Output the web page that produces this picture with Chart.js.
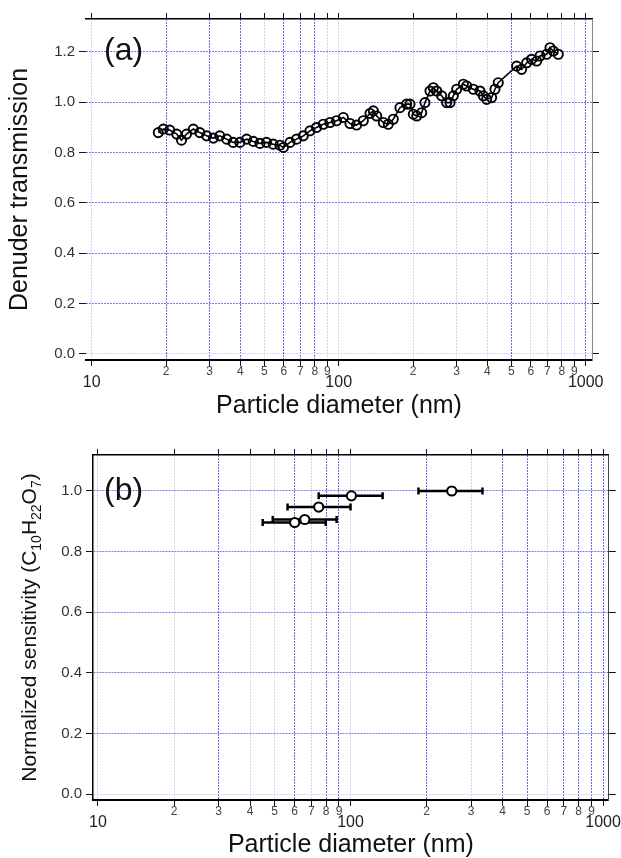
<!DOCTYPE html>
<html><head><meta charset="utf-8">
<script src="https://cdn.jsdelivr.net/npm/chart.js@4.4.1/dist/chart.umd.min.js"></script>
<style>
html,body{margin:0;padding:0;background:#fff;overflow:hidden;width:621px;height:858px;}
canvas{position:absolute;left:0;}
#ca{top:0;}
#cb{top:430px;}
</style></head><body>
<canvas id="ca" width="621" height="430"></canvas>
<canvas id="cb" width="621" height="440"></canvas>
<script>
// ---------- data ----------
const diameterA = [18.6, 19.5, 20.7, 22.1, 23.1, 24.2, 25.8, 27.4, 29.2, 31.1, 33.0, 35.2, 37.4, 39.8, 42.4, 45.1, 48.0, 51.0, 54.3, 57.8, 59.7, 63.5, 67.5, 71.9, 76.5, 81.3, 86.6, 92.2, 98.0, 104.4, 111.1, 118.1, 125.8, 133.9, 138.1, 142.5, 151.6, 158.8, 166.3, 177, 188.4, 194.4, 200.5, 207, 216.8, 223.5, 234.2, 241.6, 249.4, 261.2, 273.6, 282.3, 291.1, 300.4, 319.6, 329.7, 350.7, 373.2, 384.9, 397.2, 416, 429.3, 442.6, 525.6, 550.4, 576.8, 604, 633.4, 653, 695, 717, 739, 774.5];
const transmissionA = [0.879, 0.893, 0.889, 0.873, 0.849, 0.873, 0.893, 0.879, 0.866, 0.857, 0.866, 0.853, 0.840, 0.840, 0.853, 0.844, 0.836, 0.840, 0.833, 0.829, 0.820, 0.840, 0.853, 0.866, 0.886, 0.899, 0.912, 0.919, 0.926, 0.939, 0.915, 0.909, 0.926, 0.955, 0.965, 0.945, 0.919, 0.912, 0.932, 0.978, 0.992, 0.992, 0.952, 0.945, 0.958, 0.998, 1.044, 1.057, 1.044, 1.025, 0.998, 0.998, 1.025, 1.051, 1.071, 1.064, 1.051, 1.044, 1.025, 1.011, 1.018, 1.051, 1.077, 1.143, 1.130, 1.156, 1.170, 1.163, 1.183, 1.190, 1.216, 1.203, 1.190];

const diameterB     = [60.1, 65.9, 74.8, 100.8, 251.7];
const diameterLowB  = [44.9, 49.2, 56.3, 74.8, 185.8];
const diameterHighB = [79.8, 88.1, 100.0, 134.0, 333.0];
const sensitivityB  = [0.896, 0.906, 0.947, 0.984, 1.0];

const xTickValues = [10,20,30,40,50,60,70,80,90,100,200,300,400,500,600,700,800,900,1000];
const xTickLabels = ['10','2','3','4','5','6','7','8','9','100','2','3','4','5','6','7','8','9','1000'];
const majorX = [10,100,1000];
const yTickValuesA = [0,0.2,0.4,0.6,0.8,1.0,1.2];
const yTickValuesB = [0,0.2,0.4,0.6,0.8,1.0];

// gridline emphasis (style)
const darkGridA = [20,30,40,60,70,80,500,1000];
const darkGridB = [30,60,80,90,200,400,500,700,800,900,1000];

// ---------- helpers ----------
const FONT = "'Liberation Sans', Arial, Helvetica, sans-serif";
Chart.defaults.font.family = FONT;
const BLUE_DARK = 'rgb(105,105,240)';
const BLUE_LIGHT = 'rgb(212,212,248)';
const BLUE_H = 'rgb(120,120,245)';

function xTicksBuilder(s){ s.ticks = xTickValues.map(v => ({value: v, major: majorX.includes(v)})); }

function xBottom(min, max, darkList, h, titlePad){
  return {
    type:'logarithmic', position:'bottom', min:min, max:max,
    afterBuildTicks: xTicksBuilder,
    afterFit: s => { s.height = h; },
    ticks:{
      autoSkip:false, maxRotation:0, minRotation:0, padding:0,
      callback:(v,i) => xTickLabels[i],
      font: c => (c.tick && majorX.includes(c.tick.value)) ? {family:FONT,size:16,lineHeight:2.125} : {family:FONT,size:12,lineHeight:1.0},
      color: c => (c.tick && majorX.includes(c.tick.value)) ? '#222' : '#444'
    },
    grid:{
      color: c => (c.tick && darkList.includes(c.tick.value)) ? BLUE_DARK : BLUE_LIGHT,
      lineWidth:1, tickLength:6, tickColor:'#111', tickWidth:1
    },
    border:{display:true, color:'#000', width:2, dash:[2,1]},
    title:{display:true, text:'Particle diameter (nm)', color:'#111', font:{family:FONT,size:25}, padding:{top:0,bottom:titlePad}}
  };
}
function xTop(min, max, bw){
  return {
    type:'logarithmic', position:'top', min:min, max:max,
    afterBuildTicks: xTicksBuilder,
    afterFit: s => { s.height = 0; },
    ticks:{display:false, autoSkip:false},
    grid:{drawOnChartArea:false, tickLength:6, tickColor:'#111', tickWidth:1},
    border:{display:true, color:'#000', width:bw}
  };
}
function yLeft(min, max, vals, w, showBorder, title){
  return {
    type:'linear', position:'left', min:min, max:max,
    afterBuildTicks: s => { s.ticks = vals.map(v => ({value:v})); },
    afterFit: s => { s.width = w; },
    ticks:{padding:4, callback: v => Number(v).toFixed(1), font:{family:FONT,size:15}, color:'#333'},
    grid:{
      color: c => (c.tick && Math.abs(c.tick.value) < 1e-9) ? BLUE_LIGHT : BLUE_H,
      lineWidth:1, tickLength:7, tickColor:'#111', tickWidth:1
    },
    border:{display:showBorder, color:'#000', width:1.5, dash:[2,1]},
    title: title
  };
}
function yRight(min, max, vals, col){
  return {
    type:'linear', position:'right', min:min, max:max,
    afterBuildTicks: s => { s.ticks = vals.map(v => ({value:v})); },
    afterFit: s => { s.width = 0; },
    ticks:{display:false},
    grid:{drawOnChartArea:false, tickLength:7, tickColor:'#111', tickWidth:1},
    border:{display:true, color:col, width:1}
  };
}
function panelLabel(text, x, y){
  return { id:'panelLabel'+text, afterDraw(chart){
    const ctx = chart.ctx; ctx.save();
    ctx.font = '32px ' + FONT; ctx.fillStyle = '#111'; ctx.textBaseline = 'alphabetic'; ctx.textAlign = 'left';
    ctx.fillText(text, x, y); ctx.restore();
  }};
}

// ---------- chart (a) ----------
new Chart(document.getElementById('ca'), {
  type:'scatter',
  data:{ datasets:[{
    data: diameterA.map((d,i) => ({x:d, y:transmissionA[i]})),
    showLine:true, borderColor:'#000', borderWidth:1.6,
    pointRadius:4.6, pointBorderWidth:1.9, pointBorderColor:'#000',
    pointBackgroundColor:'rgba(255,255,255,0)', pointStyle:'circle', tension:0
  }]},
  options:{
    responsive:false, animation:false,
    layout:{padding:{top:19, right:29, left:0, bottom:0}},
    plugins:{legend:{display:false}, tooltip:{enabled:false}},
    scales:{
      x: xBottom(9.483, 1060.5, darkGridA, 70, 9),
      xTop: xTop(9.483, 1060.5, 1.5),
      y: yLeft(-0.024, 1.33, yTickValuesA, 86, false,
        {display:true, text:'Denuder transmission', color:'#111', font:{family:FONT,size:25}, padding:{top:5,bottom:0}}),
      yRight: yRight(-0.024, 1.33, yTickValuesA, '#888')
    }
  },
  plugins:[panelLabel('(a)', 104, 60)]
});

// ---------- chart (b) ----------
const errorBars = { id:'errorBars', beforeDatasetsDraw(chart){
  const xs = chart.scales.x, ys = chart.scales.y, ctx = chart.ctx;
  ctx.save(); ctx.strokeStyle = '#000'; ctx.lineWidth = 2.5; ctx.lineCap = 'butt';
  for (let i = 0; i < diameterB.length; i++){
    const x1 = xs.getPixelForValue(diameterLowB[i]);
    const x2 = xs.getPixelForValue(diameterHighB[i]);
    const y = ys.getPixelForValue(sensitivityB[i]);
    ctx.beginPath();
    ctx.moveTo(x1, y); ctx.lineTo(x2, y);
    ctx.moveTo(x1, y-3.5); ctx.lineTo(x1, y+3.5);
    ctx.moveTo(x2, y-3.5); ctx.lineTo(x2, y+3.5);
    ctx.stroke();
  }
  ctx.restore();
}};
const subTitle = { id:'subTitle', afterDraw(chart){
  const a = chart.chartArea, ctx = chart.ctx;
  const big = 21, small = 14;
  const parts = [['Normalized sensitivity (C',0],['10',1],['H',0],['22',1],['O',0],['7',1],[')',0]];
  ctx.save();
  ctx.translate(29, (a.top + a.bottom)/2);
  ctx.rotate(-Math.PI/2);
  ctx.fillStyle = '#111'; ctx.textBaseline = 'alphabetic'; ctx.textAlign = 'left';
  let total = 0;
  parts.forEach(p => { ctx.font = (p[1] ? small : big) + 'px ' + FONT; total += ctx.measureText(p[0]).width; });
  let x = -total/2; const base = big*0.35;
  parts.forEach(p => {
    ctx.font = (p[1] ? small : big) + 'px ' + FONT;
    ctx.fillText(p[0], x, base + (p[1] ? 5 : 0));
    x += ctx.measureText(p[0]).width;
  });
  ctx.restore();
}};

new Chart(document.getElementById('cb'), {
  type:'scatter',
  data:{ datasets:[{
    data: diameterB.map((d,i) => ({x:d, y:sensitivityB[i]})),
    showLine:false,
    pointRadius:4.6, pointBorderWidth:2, pointBorderColor:'#000',
    pointBackgroundColor:'#fff', pointStyle:'circle'
  }]},
  options:{
    responsive:false, animation:false,
    layout:{padding:{top:25, right:12, left:0, bottom:0}},
    plugins:{legend:{display:false}, tooltip:{enabled:false}},
    scales:{
      x: xBottom(9.555, 1053.3, darkGridB, 70, 10),
      xTop: xTop(9.555, 1053.3, 1.5),
      y: yLeft(-0.0198, 1.1188, yTickValuesB, 93, true, {display:false}),
      yRight: yRight(-0.0198, 1.1188, yTickValuesB, '#444')
    }
  },
  plugins:[errorBars, subTitle, panelLabel('(b)', 104, 70)]
});
</script>
</body></html>
